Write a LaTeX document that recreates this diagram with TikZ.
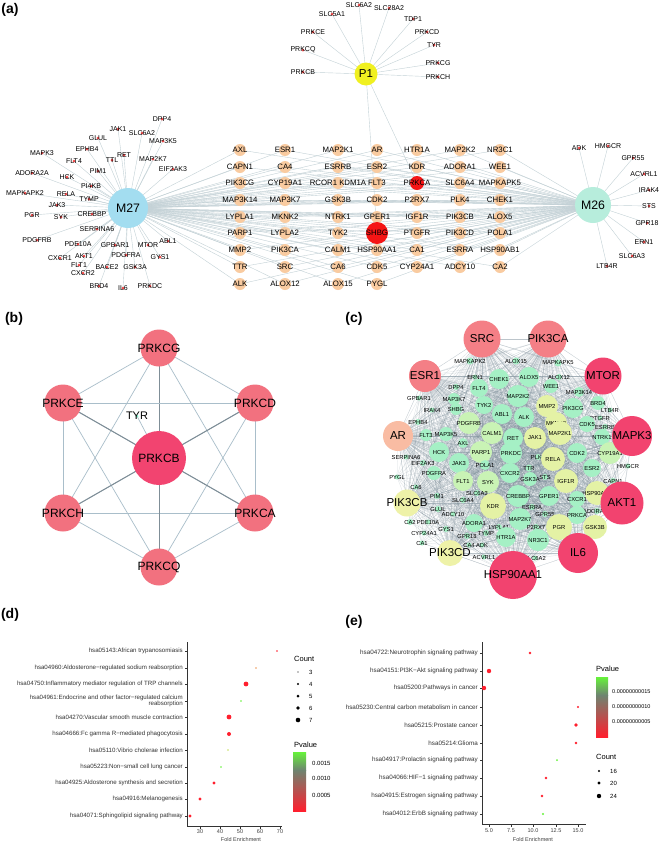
\documentclass[tikz,border=0pt]{standalone}
\usepackage{fontspec}
\setmainfont{Liberation Sans}
\usetikzlibrary{backgrounds}

\definecolor{peach}{HTML}{F9CBA0}
\definecolor{edgea}{HTML}{C3D1D6}
\definecolor{dotred}{HTML}{F04848}
\definecolor{mblue}{HTML}{A3DDF0}
\definecolor{mmint}{HTML}{B7EDDC}
\definecolor{pyellow}{HTML}{F0F020}
\definecolor{hubred}{HTML}{F51515}
\definecolor{pkpink}{HTML}{F2717F}
\definecolor{pkdeep}{HTML}{F24470}
\definecolor{hsalmon}{HTML}{F47F86}
\definecolor{hdeep}{HTML}{F2436F}
\definecolor{hpeach}{HTML}{F9BCA3}
\definecolor{hyel}{HTML}{EEF2A8}
\definecolor{cgreen}{HTML}{A5F0C5}
\definecolor{clime}{HTML}{C9F3B5}
\definecolor{cyel}{HTML}{E4F2A5}
\definecolor{edgeb}{HTML}{A9BECA}
\definecolor{edgec}{HTML}{7E909B}
\definecolor{tyrdot}{HTML}{7FF2C8}
\definecolor{ptred}{HTML}{FF1F2E}
\definecolor{ptorange}{HTML}{EE9A5A}
\definecolor{ptgreen}{HTML}{66F23A}
\definecolor{ptyel}{HTML}{C8E060}
\definecolor{barmid}{HTML}{6E8470}
\definecolor{axisgray}{HTML}{333333}

\newcommand\gridnodes{AXL/240/150, CAPN1/240/167, PIK3CG/240/183, MAP3K14/240/200, LYPLA1/240/217, PARP1/240/233, MMP2/240/250, TTR/240/267, ALK/240/284,
 ESR1/285/150, CA4/285/167, CYP19A1/285/183, MAP3K7/285/200, MKNK2/285/217, LYPLA2/285/233, PIK3CA/285/250, SRC/285/267, ALOX12/285/284,
 MAP2K1/338/150, ESRRB/338/167, GSK3B/338/200, NTRK1/338/217, TYK2/338/233, CALM1/338/250, CA6/338/267, ALOX15/338/284,
 AR/377/150, ESR2/377/167, FLT3/377/183, CDK2/377/200, GPER1/377/217, HSP90AA1/377/250, CDK5/377/267, PYGL/377/284,
 HTR1A/417/150, KDR/417/167, P2RX7/417/200, IGF1R/417/217, PTGFR/417/233, CA1/417/250, CYP24A1/417/267,
 MAP2K2/460/150, ADORA1/460/167, SLC6A4/460/183, PLK4/460/200, PIK3CB/460/217, PIK3CD/460/233, ESRRA/460/250, ADCY10/460/267,
 NR3C1/500/150, WEE1/500/167, MAPKAPK5/500/183, CHEK1/500/200, ALOX5/500/217, POLA1/500/233, HSP90AB1/500/250, CA2/500/267}

\newcommand\mleft{DPP4/162/119, JAK1/118/129, SLC6A2/142/133, GLUL/98/138, MAP3K5/163/141, EPHB4/87/149, MAPK3/42/153, RET/124/155, TTL/112/160,
 MAP2K7/153/159, FLT4/74/161, PIM1/98/171, EIF2AK3/173/169, ADORA2A/32/173, HCK/67/177, PI4KB/91/186, MAPKAPK2/25/193, RELA/66/194,
 TYMP/89/199, JAK3/57/205, PGR/32/215, SYK/61/217, CREBBP/92/214, SERPINA6/97/229, PDGFRB/37/240, PDE10A/78/244, GPBAR1/115/245,
 MTOR/148/245, ABL1/168/241, PDGFRA/126/255, CXCR1/60/258, AKT1/84/256, GYS1/160/257, FLT1/79/265, BACE2/107/267, GSK3A/135/267,
 CXCR2/83/273, BRD4/99/286, IL6/123/288, PRKDC/150/286}

\newcommand\mright{ADK/579/148, HMGCR/608/146, GPR55/633/158, ACVRL1/644/174, IRAK4/649/190, STS/649/206, GPR18/647/223, ERN1/644/242,
 SLC6A3/632/256, LTB4R/607/266}

\newcommand\ptop{SLC5A1/332/14, SLC6A2/359/5, SLC28A2/389/8, TDP1/413/19, PRKCD/427/32, TYR/434/45, PRKCG/438/63, PRKCH/438/77,
 PRKCE/313/32, PRKCQ/303/50, PRKCB/303/72}

\newcommand\chubs{SRC/482/339/37/hsalmon, PIK3CA/548/339/37/hsalmon, ESR1/425/376/32/hsalmon, MTOR/603/376/37/hdeep, AR/398/436/30/hpeach,
 MAPK3/632/436/40/hdeep, PIK3CB/407/503/27/hyel, AKT1/622/503/43/hdeep, PIK3CD/450/553/26/hyel, IL6/578/553/40/hdeep,
 HSP90AA1/513/575/48/hdeep}

\newcommand\cinner{MAPKAPK2/470/361/7/cgreen, ALOX15/516/361/7/cgreen, MAPKAPK5/558/363/7/cgreen, ERN1/475/377/5/cgreen,
 CHEK1/499/379/20/cgreen, ALOX5/529/377/20/cgreen, ALOX12/559/377/6/cgreen, DPP4/456/387/6/cgreen, FLT4/479/388/18/cgreen,
 WEE1/551/386/14/cgreen, MAP2K2/518/396/22/cgreen, MAP3K14/579/392/10/cgreen, GPBAR1/419/398/5/cgreen, MAP3K7/454/399/12/cgreen,
 TYK2/484/405/18/cgreen, MMP2/547/406/22/cyel, PIK3CG/573/408/20/cgreen, BRD4/598/403/14/cgreen, SHBG/456/409/12/cgreen,
 IRAK4/432/410/5/cgreen, ABL1/502/414/20/cgreen, ALK/524/417/20/cgreen, LTB4R/610/410/5/cgreen, PTGFR/600/418/5/cgreen,
 EPHB4/418/422/6/cgreen, PDGFRB/469/423/22/clime, MKNK2/556/423/22/cyel, CDK5/587/424/16/cgreen, ESRRB/605/427/6/cgreen,
 FLT3/426/435/12/cgreen, MAP3K5/446/434/14/cgreen, CALM1/492/433/22/clime, RET/513/438/20/cgreen, JAK1/535/438/22/cyel,
 MAP2K1/560/433/24/cyel, NTRK1/602/437/16/cgreen, AXL/463/443/10/cgreen, HCK/439/452/20/cgreen, PARP1/481/452/22/clime,
 PRKDC/511/453/22/cgreen, PLK4/538/457/6/cgreen, RELA/553/459/24/cyel, CDK2/577/453/20/cgreen, CYP19A1/610/453/22/clime,
 SERPINA6/406/457/5/cgreen, EIF2AK3/423/463/6/cgreen, JAK3/459/463/20/cgreen, POLA1/485/465/10/cgreen, ESR2/592/468/18/cgreen,
 HMGCR/628/466/5/cgreen, PDGFRA/434/473/14/cgreen, CXCR2/510/473/20/cgreen, TTR/529/468/7/cgreen, STS/545/477/6/cgreen,
 GSK3A/530/479/14/cgreen, IGF1R/566/481/24/cyel, CAPN1/613/481/6/cgreen, PYGL/397/477/5/cgreen, FLT1/463/481/20/clime,
 SYK/488/482/22/clime, CA6/416/487/5/cgreen, HSP90AB1/597/493/24/cyel, SLC6A3/477/493/6/cgreen, PIM1/437/496/6/cgreen,
 CREBBP/518/496/22/cgreen, GPER1/549/496/20/cgreen, CXCR1/577/499/16/cgreen, SLC6A4/463/500/6/cgreen, GLUL/438/509/6/cgreen,
 KDR/493/506/26/cyel, ESRRA/532/507/6/cgreen, ADORA2A/597/511/6/cgreen, ADCY10/453/514/5/cgreen, GPR55/545/514/6/cgreen,
 PRKCA/577/515/18/cgreen, CA2/410/522/6/cgreen, PDE10A/428/522/5/cgreen, ADORA1/474/523/18/cgreen, MAP2K7/520/519/22/cgreen,
 PGR/559/527/26/cyel, GSK3B/595/527/24/cyel, CYP24A1/424/533/5/cgreen, GYS1/446/529/6/cgreen, LYPLA1/499/527/6/cgreen,
 P2RX7/536/527/6/cgreen, TYMP/486/533/6/cgreen, GPR18/467/536/6/cgreen, HTR1A/506/537/20/cgreen, NR3C1/538/540/22/cgreen,
 CA1/422/543/5/cgreen, CA4/469/545/5/cgreen, ADK/482/545/5/cgreen, ACVRL1/484/557/5/cgreen, SLC6A2/535/558/5/cgreen}

\begin{document}
\begin{tikzpicture}[x=1pt,y=-1pt,
  panel/.style={font=\fontsize{14}{14}\selectfont\bfseries,inner sep=0pt},
  link/.style={draw=edgea,line width=0.4pt},
  hub/.style={circle,inner sep=0pt,font=\fontsize{12.3}{12}\selectfont},
  gdot/.style={circle,fill=peach,inner sep=0pt,minimum size=12pt},
  gtxt/.style={font=\fontsize{7.8}{8}\selectfont,inner sep=0pt},
  pdot/.style={circle,fill=dotred,inner sep=0pt,minimum size=3pt},
  ptxt/.style={font=\fontsize{7}{7}\selectfont,inner sep=0pt},
  bnode/.style={circle,fill=pkpink,inner sep=0pt,minimum size=37pt},
  btxt/.style={font=\fontsize{12}{12}\selectfont,inner sep=0pt},
  blink/.style={draw=edgeb,line width=0.7pt},
  cnode/.style={circle,inner sep=0pt},
  chtxt/.style={font=\fontsize{11.5}{12}\selectfont,inner sep=0pt},
  ctxt/.style={font=\fontsize{5.8}{6}\selectfont,inner sep=0pt},
  clink/.style={draw=edgec,line width=0.25pt,opacity=0.3},
  axis/.style={draw=axisgray,line width=0.6pt},
  rowtxt/.style={font=\fontsize{6.15}{6.8}\selectfont,text=black!80,inner sep=0pt,anchor=east,align=right},
  tick/.style={font=\fontsize{5.5}{6}\selectfont,text=black!75,inner sep=0pt},
  legtitle/.style={font=\fontsize{7.5}{8}\selectfont,inner sep=0pt,anchor=west},
  legnum/.style={font=\fontsize{6}{6}\selectfont,inner sep=0pt,anchor=west}]
\useasboundingbox (0,0) rectangle (661,844);
\begin{scope}[on background layer]
  \fill[white] (0,0) rectangle (661,844);
\end{scope}

% (a)
\node[panel] (lab-a) at (10,10) {(a)};
\node[hub,fill=pyellow,minimum size=23pt,font=\fontsize{11.5}{12}\selectfont] (P1) at (366,74) {P1};
\node[hub,fill=mblue,minimum size=40pt] (M27) at (128,208) {M27};
\node[hub,fill=mmint,minimum size=36pt] (M26) at (593,205) {M26};
\foreach \n/\x/\y in \gridnodes
  \node[gdot] (g-\n) at (\x,\y) {};
\node[gdot] (g-RCOR1) at (338,183) {};
\node[gdot,fill=hubred,minimum size=14pt] (g-PRKCA) at (417,183) {};
\node[gdot,fill=hubred,minimum size=22pt] (g-SHBG) at (377,233) {};
\foreach \n/\x/\y in \gridnodes
  \node[gtxt] (gt-\n) at (g-\n) {\n};
\node[gtxt] (gt-RCOR1) at (g-RCOR1) {RCOR1 KDM1A};
\node[gtxt] (gt-PRKCA) at (g-PRKCA) {PRKCA};
\node[gtxt] (gt-SHBG) at (g-SHBG) {SHBG};
\foreach \n/\x/\y in \mleft
  \node[pdot,label={[ptxt]center:\n}] (a27-\n) at (\x,\y) {};
\foreach \n/\x/\y in \mright
  \node[pdot,label={[ptxt]center:\n}] (a26-\n) at (\x,\y) {};
\foreach \n/\x/\y in \ptop
  \node[pdot,label={[ptxt]center:\n}] (p1-\n) at (\x,\y) {};
\begin{scope}[on background layer]
  \foreach \n/\x/\y in \gridnodes {
    \draw[link] (M27.center) -- (g-\n.center);
    \draw[link] (M26.center) -- (g-\n.center);
  }
  \foreach \n in {RCOR1,PRKCA,SHBG} {
    \draw[link] (M27.center) -- (g-\n.center);
    \draw[link] (M26.center) -- (g-\n.center);
  }
  \foreach \n/\x/\y in \mleft
    \draw[link] (M27.center) -- (a27-\n.center);
  \foreach \n/\x/\y in \mright
    \draw[link] (M26.center) -- (a26-\n.center);
  \foreach \n/\x/\y in \ptop
    \draw[link] (P1.center) -- (p1-\n.center);
  \draw[link] (P1.center) -- (g-SHBG.center);
  \draw[link] (P1.center) -- (g-PRKCA.center);
\end{scope}

% (b)
\node[panel] (lab-b) at (14,319) {(b)};
\foreach \n/\x/\y in {PRKCG/159/348, PRKCE/63/403, PRKCD/255/403, PRKCH/63/513, PRKCA/255/513, PRKCQ/159/567}
  \node[bnode,label={[btxt]center:\n}] (b-\n) at (\x,\y) {};
\node[bnode,fill=pkdeep,minimum size=54pt,label={[btxt]center:PRKCB}] (b-PRKCB) at (159,458) {};
\node[circle,fill=tyrdot,inner sep=0pt,minimum size=3pt,label={[btxt,font=\fontsize{11}{11}\selectfont]center:TYR}] (b-TYR) at (137,416) {};
\begin{scope}[on background layer]
  \foreach \a [count=\i] in {PRKCG,PRKCE,PRKCD,PRKCH,PRKCA,PRKCQ,PRKCB}
    \foreach \b [count=\j] in {PRKCG,PRKCE,PRKCD,PRKCH,PRKCA,PRKCQ,PRKCB} {
      \ifnum\j>\i
        \ifnum\j=7 \draw[blink,draw=edgeb!75!black,line width=1pt] (b-\a.center) -- (b-\b.center);
        \else \draw[blink] (b-\a.center) -- (b-\b.center); \fi
      \fi
    }
  \draw[blink] (b-TYR.center) -- (b-PRKCB.center);
\end{scope}

% (c)
\node[panel] (lab-c) at (354,319) {(c)};
\foreach \n/\x/\y/\s/\c in \cinner
  \node[cnode,fill=\c,minimum size=\s pt,label={[ctxt]center:\n}] (c-\n) at (\x,\y) {};
\foreach \n/\x/\y/\s/\c in \chubs
  \node[cnode,fill=\c,minimum size=\s pt,label={[chtxt]center:\n}] (c-\n) at (\x,\y) {};
\begin{scope}[on background layer]
  \foreach \h/\hx/\hy/\hs/\hc in \chubs {
    \foreach \n/\x/\y/\s/\c in \cinner
      \draw[clink] (c-\h.center) -- (c-\n.center);
    \foreach \n/\x/\y/\s/\c in \chubs
      \draw[clink] (c-\h.center) -- (c-\n.center);
  }
  \foreach \a/\ax/\ay/\as/\ac [count=\i] in \cinner
    \foreach \b/\bx/\by/\bs/\bc [count=\j] in \cinner {
      \ifnum\j>\i \ifnum\as>17 \ifnum\bs>17
        \draw[clink] (c-\a.center) -- (c-\b.center);
      \fi\fi\fi
    }
\end{scope}

% (d)
\node[panel] (lab-d) at (10,615) {(d)};
\draw[axis] (187,642) -- (187,826) -- (282,826);
\foreach \v/\x in {30/200,40/220,50/240,60/260,70/280} {
  \draw[axis] (\x,826) -- (\x,828.5);
  \node[tick] (d-t\v) at (\x,832) {\v};
}
\node[tick] (d-xlab) at (241,839.5) {Fold Enrichment};
\foreach \t/\y/\x/\r/\c [count=\k] in {
  {hsa05143:African trypanosomiasis}/651/277/0.8/ptred,
  {hsa04960:Aldosterone−regulated sodium reabsorption}/668/256/0.9/ptorange,
  {hsa04750:Inflammatory mediator regulation of TRP channels}/684/246/2.4/ptred,
  {hsa04961:Endocrine and other factor−regulated calcium\\reabsorption}/701/241/0.8/ptgreen,
  {hsa04270:Vascular smooth muscle contraction}/717/229/2.4/ptred,
  {hsa04666:Fc gamma R−mediated phagocytosis}/734/229/2.0/ptred,
  {hsa05110:Vibrio cholerae infection}/750/228/0.8/ptyel,
  {hsa05223:Non−small cell lung cancer}/767/221/0.9/ptgreen,
  {hsa04925:Aldosterone synthesis and secretion}/783/214/1.6/ptred,
  {hsa04916:Melanogenesis}/799/200/1.6/ptred,
  {hsa04071:Sphingolipid signaling pathway}/816/190/1.6/ptred} {
  \node[rowtxt] (d-r\k) at (183,\y) {\t};
  \draw[axis] (185,\y) -- (187,\y);
  \fill[\c] (\x,\y) circle (\r);
}
\node[legtitle] (d-count) at (294,659) {Count};
\foreach \v/\y/\r in {3/672/0.6,4/684/1.1,5/696/1.5,6/708/1.9,7/720/2.3} {
  \fill[black] (298,\y) circle (\r);
  \node[legnum] (d-c\v) at (309,\y) {\v};
}
\node[legtitle] (d-pv) at (294,745) {Pvalue};
\shade[top color=ptgreen,bottom color=barmid] (293,752) rectangle (306,770);
\shade[top color=barmid,bottom color=ptred] (293,770) rectangle (306,811);
\foreach \v/\y in {0.0015/763,0.0010/778,0.0005/795}
  \node[legnum] (d-p\y) at (312,\y) {\v};

% (e)
\node[panel] (lab-e) at (354,622) {(e)};
\draw[axis] (482,642) -- (482,824) -- (586,824);
\foreach \v/\x in {5.0/489,7.5/511,10.0/533,12.5/556,15.0/578} {
  \draw[axis] (\x,824) -- (\x,826.5);
  \node[tick] (e-t\x) at (\x,830.5) {\v};
}
\node[tick] (e-xlab) at (533,839.5) {Fold Enrichment};
\foreach \t/\y/\x/\r/\c [count=\k] in {
  {hsa04722:Neurotrophin signaling pathway}/653/530/1.4/ptred,
  {hsa04151:PI3K−Akt signaling pathway}/671/489/2.2/ptred,
  {hsa05200:Pathways in cancer}/688/484/2.2/ptred,
  {hsa05230:Central carbon metabolism in cancer}/707/578/1.2/ptred,
  {hsa05215:Prostate cancer}/725/576/1.8/ptred,
  {hsa05214:Glioma}/743/576/1.3/ptred,
  {hsa04917:Prolactin signaling pathway}/760/557/1.0/ptgreen,
  {hsa04066:HIF−1 signaling pathway}/778/546/1.4/ptred,
  {hsa04915:Estrogen signaling pathway}/796/542/1.4/ptred,
  {hsa04012:ErbB signaling pathway}/814/543/1.2/ptgreen} {
  \node[rowtxt,font=\fontsize{6.3}{6.8}\selectfont] (e-r\k) at (478,\y) {\t};
  \draw[axis] (480,\y) -- (482,\y);
  \fill[\c] (\x,\y) circle (\r);
}
\node[legtitle] (e-pv) at (596,669) {Pvalue};
\shade[top color=ptgreen,bottom color=barmid] (596,677) rectangle (608,695);
\shade[top color=barmid,bottom color=ptred] (596,695) rectangle (608,737);
\foreach \v/\y in {0.00000000015/692,0.00000000010/707,0.00000000005/722}
  \node[legnum,font=\fontsize{5.5}{6}\selectfont] (e-p\y) at (612,\y) {\v};
\node[legtitle] (e-count) at (596,757) {Count};
\foreach \v/\y/\r in {16/771/1.2,20/783/1.7,24/796/2.2} {
  \fill[black] (599,\y) circle (\r);
  \node[legnum] (e-c\v) at (610,\y) {\v};
}
\end{tikzpicture}
\end{document}
